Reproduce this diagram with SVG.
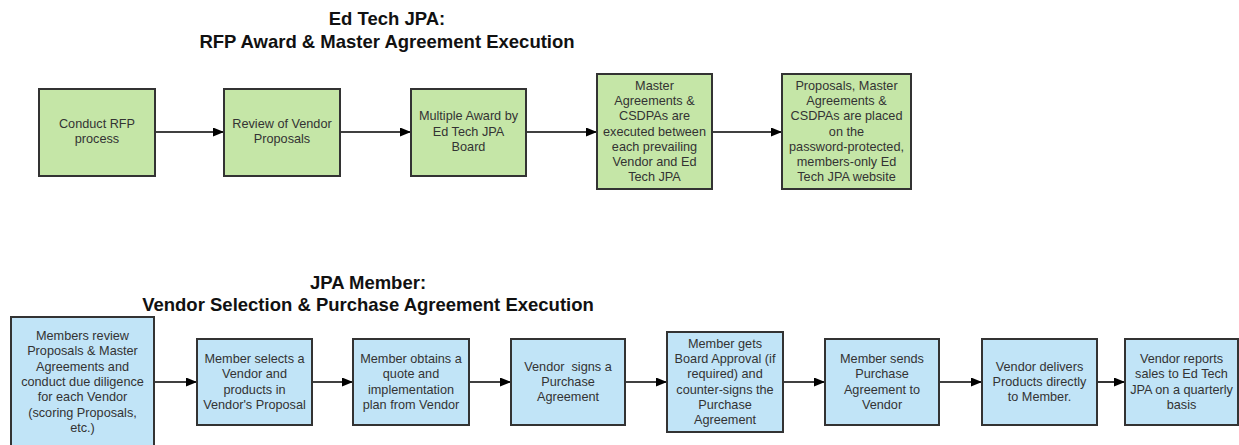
<svg xmlns="http://www.w3.org/2000/svg" width="1239" height="445" viewBox="0 0 1239 445">
<style>
.title{font-family:"Liberation Sans",Arial,sans-serif;font-weight:bold;font-size:18.5px;fill:#111;text-anchor:middle}
.lbl{font-family:"Liberation Sans",Arial,sans-serif;font-size:12.7px;fill:#333;text-anchor:middle;white-space:pre}
.g{fill:#c5e6a7;stroke:#333;stroke-width:2}
.b{fill:#c1e4f7;stroke:#333;stroke-width:2}
.c{stroke:#000;stroke-width:1.6;fill:none;marker-end:url(#ah)}
</style>
<defs>
<marker id="ah" markerUnits="userSpaceOnUse" markerWidth="11" markerHeight="9" refX="11" refY="4.5" orient="auto">
<path d="M0,0 L11,4.5 L0,9 z" fill="#000"/>
</marker>
</defs>
<rect width="1239" height="445" fill="#fff"/>
<g id="titles">
<text class="title" x="387" y="25">Ed Tech JPA:</text>
<text class="title" x="387" y="48">RFP Award &amp; Master Agreement Execution</text>
<text class="title" x="368" y="289">JPA Member:</text>
<text class="title" x="368" y="311">Vendor Selection &amp; Purchase Agreement Execution</text>
</g>
<g id="connectors">
<line class="c" x1="155" y1="132" x2="224" y2="132"/>
<line class="c" x1="340" y1="132" x2="411" y2="132"/>
<line class="c" x1="526" y1="132" x2="597" y2="132"/>
<line class="c" x1="712" y1="132" x2="782" y2="132"/>
<line class="c" x1="154" y1="382" x2="197" y2="382"/>
<line class="c" x1="312" y1="382" x2="353" y2="382"/>
<line class="c" x1="469" y1="382" x2="511" y2="382"/>
<line class="c" x1="625" y1="382" x2="667" y2="382"/>
<line class="c" x1="783" y1="382" x2="825" y2="382"/>
<line class="c" x1="939" y1="382" x2="982" y2="382"/>
<line class="c" x1="1097" y1="382" x2="1125" y2="382"/>
</g>
<g id="t1">
<rect class="g" x="39" y="89" width="116" height="87"/>
<text class="lbl" x="97"><tspan x="97" y="128">Conduct RFP</tspan><tspan x="97" y="143">process</tspan></text>
</g>
<g id="t2">
<rect class="g" x="224" y="89" width="116" height="87"/>
<text class="lbl"><tspan x="282" y="128">Review of Vendor</tspan><tspan x="282" y="143">Proposals</tspan></text>
</g>
<g id="t3">
<rect class="g" x="411" y="89" width="115" height="87"/>
<text class="lbl"><tspan x="468.5" y="120">Multiple Award by</tspan><tspan x="468.5" y="135.5">Ed Tech JPA</tspan><tspan x="468.5" y="151">Board</tspan></text>
</g>
<g id="t4">
<rect class="g" x="597" y="74" width="115" height="115"/>
<text class="lbl"><tspan x="654.5" y="89.6">Master</tspan><tspan x="654.5" y="104.9">Agreements &amp;</tspan><tspan x="654.5" y="120.2">CSDPAs are</tspan><tspan x="654.5" y="135.5">executed between</tspan><tspan x="654.5" y="150.8">each prevailing</tspan><tspan x="654.5" y="166.1">Vendor and Ed</tspan><tspan x="654.5" y="181.4">Tech JPA</tspan></text>
</g>
<g id="t5">
<rect class="g" x="782" y="74" width="129" height="115"/>
<text class="lbl"><tspan x="846.5" y="89.6">Proposals, Master</tspan><tspan x="846.5" y="104.9">Agreements &amp;</tspan><tspan x="846.5" y="120.2">CSDPAs are placed</tspan><tspan x="846.5" y="135.5">on the</tspan><tspan x="846.5" y="150.8">password-protected,</tspan><tspan x="846.5" y="166.1">members-only Ed</tspan><tspan x="846.5" y="181.4">Tech JPA website</tspan></text>
</g>
<g id="b1">
<rect class="b" x="11" y="317" width="143" height="130"/>
<text class="lbl"><tspan x="82.5" y="340.1">Members review</tspan><tspan x="82.5" y="355.4">Proposals &amp; Master</tspan><tspan x="82.5" y="370.7">Agreements and</tspan><tspan x="82.5" y="386">conduct due diligence</tspan><tspan x="82.5" y="401.3">for each Vendor</tspan><tspan x="82.5" y="416.6">(scoring Proposals,</tspan><tspan x="82.5" y="431.9">etc.)</tspan></text>
</g>
<g id="b2">
<rect class="b" x="197" y="339" width="115" height="86"/>
<text class="lbl"><tspan x="254.5" y="363">Member selects a</tspan><tspan x="254.5" y="378.3">Vendor and</tspan><tspan x="254.5" y="393.6">products in</tspan><tspan x="254.5" y="408.9">Vendor's Proposal</tspan></text>
</g>
<g id="b3">
<rect class="b" x="353" y="339" width="116" height="86"/>
<text class="lbl"><tspan x="411" y="363">Member obtains a</tspan><tspan x="411" y="378.3">quote and</tspan><tspan x="411" y="393.6">implementation</tspan><tspan x="411" y="408.9">plan from Vendor</tspan></text>
</g>
<g id="b4">
<rect class="b" x="511" y="339" width="114" height="86"/>
<text class="lbl"><tspan x="568" y="370.7">Vendor  signs a</tspan><tspan x="568" y="386">Purchase</tspan><tspan x="568" y="401.3">Agreement</tspan></text>
</g>
<g id="b5">
<rect class="b" x="667" y="332" width="116" height="100"/>
<text class="lbl"><tspan x="725" y="347.7">Member gets</tspan><tspan x="725" y="363">Board Approval (if</tspan><tspan x="725" y="378.3">required) and</tspan><tspan x="725" y="393.6">counter-signs the</tspan><tspan x="725" y="408.9">Purchase</tspan><tspan x="725" y="424.2">Agreement</tspan></text>
</g>
<g id="b6">
<rect class="b" x="825" y="339" width="114" height="86"/>
<text class="lbl"><tspan x="882" y="363">Member sends</tspan><tspan x="882" y="378.3">Purchase</tspan><tspan x="882" y="393.6">Agreement to</tspan><tspan x="882" y="408.9">Vendor</tspan></text>
</g>
<g id="b7">
<rect class="b" x="982" y="339" width="115" height="86"/>
<text class="lbl"><tspan x="1039.5" y="370.7">Vendor delivers</tspan><tspan x="1039.5" y="386">Products directly</tspan><tspan x="1039.5" y="401.3">to Member.</tspan></text>
</g>
<g id="b8">
<rect class="b" x="1125" y="339" width="113" height="86"/>
<text class="lbl"><tspan x="1181.5" y="363">Vendor reports</tspan><tspan x="1181.5" y="378.3">sales to Ed Tech</tspan><tspan x="1181.5" y="393.6">JPA on a quarterly</tspan><tspan x="1181.5" y="408.9">basis</tspan></text>
</g>
</svg>
